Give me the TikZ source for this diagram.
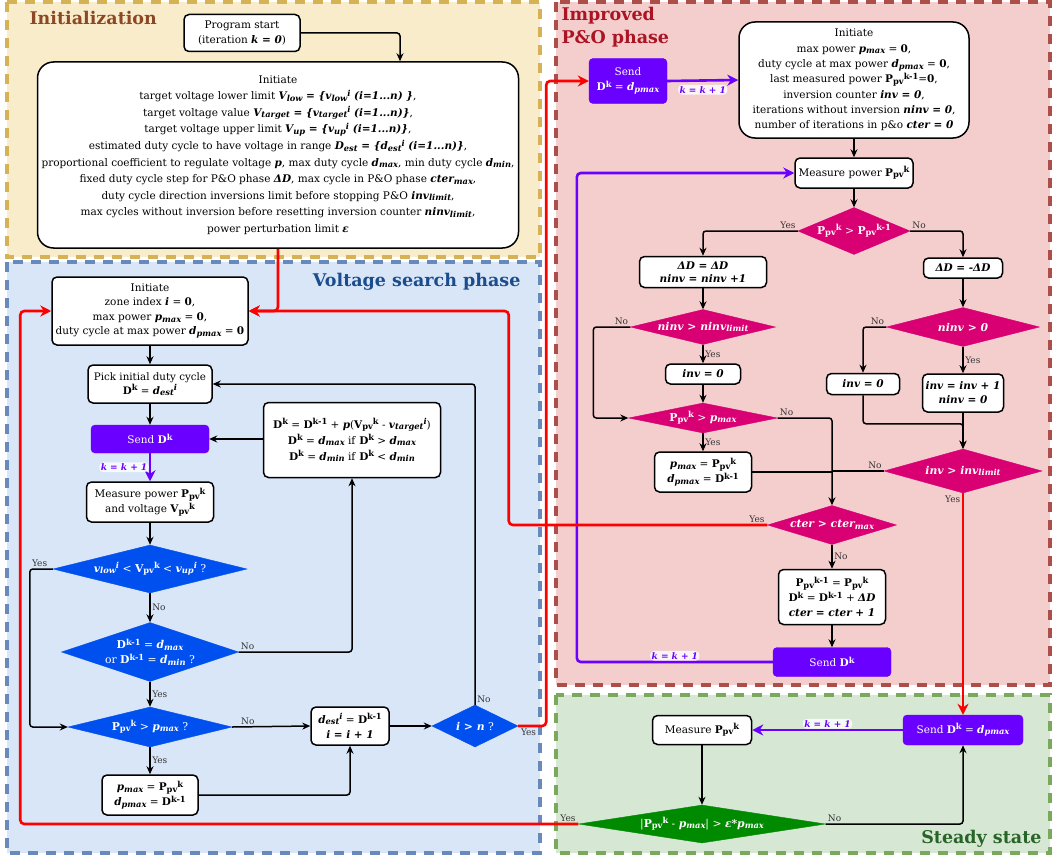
\documentclass[tikz,border=0pt]{standalone}
\usepackage{fontspec}
\setmainfont{DejaVu Serif}
\usetikzlibrary{shapes.geometric, arrows.meta, positioning, calc}

\definecolor{yelfill}{RGB}{249,236,202}
\definecolor{yeledge}{RGB}{214,178,86}
\definecolor{bluefill}{RGB}{216,230,248}
\definecolor{blueedge}{RGB}{104,137,186}
\definecolor{pinkfill}{RGB}{244,205,205}
\definecolor{pinkedge}{RGB}{172,78,74}
\definecolor{greenfill}{RGB}{214,232,212}
\definecolor{greenedge}{RGB}{122,168,92}
\definecolor{sendpurple}{RGB}{106,0,255}
\definecolor{diablue}{RGB}{0,80,239}
\definecolor{diamag}{RGB}{216,0,115}
\definecolor{diagreen}{RGB}{0,138,0}
\definecolor{ttlbrown}{RGB}{140,72,36}
\definecolor{ttlblue}{RGB}{27,76,140}
\definecolor{ttlred}{RGB}{170,20,35}
\definecolor{ttlgreen}{RGB}{40,100,40}

\newcommand{\bv}[1]{\textbf{\textit{#1}}}
\newcommand{\sps}[1]{\raisebox{0.62ex}{\fontsize{8.3}{9}\selectfont #1}}
\newcommand{\sbs}[1]{\raisebox{-0.3ex}{\fontsize{8.3}{9}\selectfont #1}}
\newcommand{\Dk}[1]{\textbf{D\sps{#1}}}
\newcommand{\Ppv}[1]{\textbf{P\sbs{pv}\sps{#1}}}
\newcommand{\Vpv}[1]{\textbf{V\sbs{pv}\sps{#1}}}

\begin{document}
\begin{tikzpicture}[
    x=1pt, y=-1pt, >=Stealth,
    every node/.style={font=\fontsize{10.5}{15}\selectfont},
    box/.style={draw, line width=1.5pt, rounded corners=5pt, fill=white, align=center, inner sep=2pt},
    bigbox/.style={box, rounded corners=16pt},
    sendbox/.style={draw=sendpurple, fill=sendpurple, text=white, rounded corners=4pt, align=center, inner sep=2pt},
    dia/.style={diamond, inner sep=0pt, align=center, text=white, font=\fontsize{10.8}{15}\selectfont},
    bdia/.style={dia, fill=diablue, draw=diablue},
    mdia/.style={dia, fill=diamag, draw=diamag},
    gdia/.style={dia, fill=diagreen, draw=diagreen},
    region/.style={line width=3.5pt, dash pattern=on 10pt off 8pt},
    title/.style={font=\fontsize{17.5}{23}\selectfont\bfseries},
    line/.style={draw, line width=1.5pt, -{Stealth[length=8pt,width=7pt]}, rounded corners=3pt},
    mergeline/.style={draw, line width=1.5pt, rounded corners=3pt},
    redline/.style={draw=red, line width=2.6pt, -{Stealth[length=11pt,width=11pt]}, rounded corners=4pt},
    purpline/.style={draw=sendpurple, line width=2.6pt, -{Stealth[length=11pt,width=11pt]}, rounded corners=4pt},
    lbl/.style={font=\fontsize{9}{10}\selectfont, text=black!80, inner sep=1.5pt},
    klbl/.style={font=\fontsize{9}{10}\selectfont\bfseries\itshape, text=sendpurple, fill=white, fill opacity=0.8, text opacity=1, inner sep=1.5pt}
]
\useasboundingbox (0,0) rectangle (1055,859);

% phase areas
\fill[yelfill] (7,2) rectangle (540,257);
\draw[yeledge, region] (7,2) rectangle (540,257);
\fill[bluefill] (7,262) rectangle (540,853);
\draw[blueedge, region] (7,262) rectangle (540,853);
\fill[pinkfill] (556,2) rectangle (1050,685);
\draw[pinkedge, region] (556,2) rectangle (1050,685);
\fill[greenfill] (556,695) rectangle (1050,853);
\draw[greenedge, region] (556,695) rectangle (1050,853);

\node[title, text=ttlbrown, anchor=west] (ttlinit) at (26,18) {Initialization};
\node[title, text=ttlblue, anchor=east] (ttlvolt) at (524,282) {Voltage search phase};
\node[title, text=ttlred, anchor=north west, align=left] (ttlpo) at (558,4) {Improved\\P\&O phase};
\node[title, text=ttlgreen, anchor=east] (ttlsteady) at (1045,839) {Steady state};

% initialization
\node[box, minimum width=116, minimum height=37] (start) at (242,33) {Program start\\(iteration \bv{k = 0})};
\node[bigbox, minimum width=481, minimum height=186, font=\fontsize{10.5}{16.6}\selectfont] (init) at (278,155) {Initiate\\
    target voltage lower limit \bv{V\sbs{low} = \{v\sbs{low}\sps{i} (i=1...n) \}},\\
    target voltage value \bv{V\sbs{target} = \{v\sbs{target}\sps{i} (i=1...n)\}},\\
    target voltage upper limit \bv{V\sbs{up} = \{v\sbs{up}\sps{i} (i=1...n)\}},\\
    estimated duty cycle to have voltage in range \bv{D\sbs{est} = \{d\sbs{est}\sps{i} (i=1...n)\}},\\
    proportional coefficient to regulate voltage \bv{p}, max duty cycle \bv{d\sbs{max}}, min duty cycle \bv{d\sbs{min}},\\
    fixed duty cycle step for P\&O phase \bv{ΔD}, max cycle in P\&O phase \bv{cter\sbs{max}},\\
    duty cycle direction inversions limit before stopping P\&O \bv{inv\sbs{limit}},\\
    max cycles without inversion before resetting inversion counter \bv{ninv\sbs{limit}},\\
    power perturbation limit \bv{ε}};
\draw[line] (start.east) -| ([xshift=122pt]init.north);

% voltage search phase
\node[box, minimum width=196, minimum height=68, font=\fontsize{10.5}{14.5}\selectfont] (vinit) at (150,311) {Initiate\\zone index \bv{i} = \textbf{0},\\max power \bv{p\sbs{max}} = \textbf{0},\\duty cycle at max power \bv{d\sbs{pmax}} = \textbf{0}};
\node[box, minimum width=124, minimum height=38, font=\fontsize{10.3}{14}\selectfont] (pick) at (150,384) {Pick initial duty cycle\\\Dk{k} = \bv{d\sbs{est}\sps{i}}};
\node[sendbox, minimum width=118, minimum height=28] (send1) at (150,439) {Send \Dk{k}};
\node[box, minimum width=127, minimum height=40] (meas1) at (150,502) {Measure power \Ppv{k}\\and voltage \Vpv{k}};
\node[bdia, minimum width=194, minimum height=48, aspect=4] (d1) at (150,569) {\bv{v\sbs{low}\sps{i}} < \Vpv{k} < \bv{v\sbs{up}\sps{i}} ?};
\node[bdia, minimum width=177, minimum height=59, aspect=3] (d2) at (150,652) {\Dk{k-1} = \bv{d\sbs{max}}\\or \Dk{k-1} = \bv{d\sbs{min}} ?};
\node[bdia, minimum width=164, minimum height=40, aspect=4] (d3) at (150,727) {\Ppv{k} > \bv{p\sbs{max}} ?};
\node[box, minimum width=96, minimum height=40] (pm1) at (150,795) {\bv{p\sbs{max}} = \Ppv{k}\\\bv{d\sbs{pmax}} = \Dk{k-1}};
\node[box, minimum width=78, minimum height=38] (dest) at (350,726) {\bv{d\sbs{est}\sps{i}} = \Dk{k-1}\\\bv{i = i + 1}};
\node[bdia, minimum width=86, minimum height=42, aspect=2] (d4) at (475,726) {\bv{i > n} ?};
\node[box, minimum width=177, minimum height=75, font=\fontsize{10.5}{16}\selectfont] (update) at (352,440) {\Dk{k} = \Dk{k-1} + \bv{p}(\Vpv{k} - \bv{v\sbs{target}\sps{i}})\\\Dk{k} = \bv{d\sbs{max}} if \Dk{k} > \bv{d\sbs{max}}\\\Dk{k} = \bv{d\sbs{min}} if \Dk{k} < \bv{d\sbs{min}}};

\draw[line] (vinit) -- (pick);
\draw[line] (pick) -- (send1);
\draw[purpline] (send1) -- node[klbl, left] (kv) {k = k + 1} (meas1);
\draw[line] (meas1) -- (d1);
\draw[line] (d1) -- node[lbl, right] (n1) {No} (d2);
\draw[line] (d2) -- node[lbl, right] (y2) {Yes} (d3);
\draw[line] (d3) -- node[lbl, right] (y3) {Yes} (pm1);
\draw[line] (d1.west) -- ++(-23,0) node[lbl, above right] (y1) {Yes} |- (d3.west);
\draw[line] (d3.east) -- node[lbl, above, pos=0.2] (n3) {No} (dest.west);
\draw[line] (pm1.east) -| (dest.south);
\draw[line] (dest.east) -- (d4.west);
\draw[line] (d4.north) node[lbl, above right] (n4) {No} |- (pick.east);
\draw[line] (d2.east) node[lbl, above right] (n2) {No} -| (update.south);
\draw[line] (update.west |- send1.east) -- (send1.east);
\draw[redline] (init.south) |- (vinit.east);

% improved P&O phase
\node[sendbox, minimum width=78, minimum height=45] (send2) at (628,81) {Send\\\Dk{k} = \bv{d\sbs{pmax}}};
\node[bigbox, minimum width=230, minimum height=116, font=\fontsize{10.5}{15.3}\selectfont] (pinit) at (854,80) {Initiate\\max power \bv{p\sbs{max}} = \textbf{0},\\duty cycle at max power \bv{d\sbs{pmax}} = \textbf{0},\\last measured power \Ppv{k-1}=\textbf{0},\\inversion counter \bv{inv = 0},\\iterations without inversion \bv{ninv = 0},\\number of iterations in p\&o \bv{cter = 0}};
\node[box, minimum width=118, minimum height=30] (meas2) at (854,173) {Measure power \Ppv{k}};
\node[mdia, minimum width=112, minimum height=47, aspect=2.5] (pd1) at (854,231) {\Ppv{k} > \Ppv{k-1}};
\node[box, minimum width=127, minimum height=31, font=\fontsize{10.5}{13.5}\selectfont] (da) at (703,272) {\bv{ΔD = ΔD}\\\bv{ninv = ninv +1}};
\node[box, minimum width=79, minimum height=20, font=\fontsize{10.5}{11}\selectfont] (db) at (963,268) {\bv{ΔD = -ΔD}};
\node[mdia, minimum width=145, minimum height=35, aspect=4] (pd2) at (703,327) {\bv{ninv > ninv\sbs{limit}}};
\node[mdia, minimum width=153, minimum height=39, aspect=4] (pd3) at (963,327) {\bv{ninv > 0}};
\node[box, minimum width=75, minimum height=20, font=\fontsize{10.5}{11}\selectfont] (inv0a) at (703,374) {\bv{inv = 0}};
\node[box, minimum width=73, minimum height=21, font=\fontsize{10.5}{11}\selectfont] (inv0b) at (863,384) {\bv{inv = 0}};
\node[box, minimum width=81, minimum height=38, font=\fontsize{10.5}{14}\selectfont] (incb) at (963,393) {\bv{inv = inv + 1}\\\bv{ninv = 0}};
\node[mdia, minimum width=149, minimum height=30, aspect=5] (pd4) at (703,418) {\Ppv{k} > \bv{p\sbs{max}}};
\node[box, minimum width=97, minimum height=40] (pm2) at (703,472) {\bv{p\sbs{max}} = \Ppv{k}\\\bv{d\sbs{pmax}} = \Dk{k-1}};
\node[mdia, minimum width=158, minimum height=44, aspect=3.6] (pd5) at (963,471) {\bv{inv > inv\sbs{limit}}};
\node[mdia, minimum width=129, minimum height=39, aspect=3.3] (pd6) at (832,525) {\bv{cter > cter\sbs{max}}};
\node[box, minimum width=107, minimum height=55, font=\fontsize{10.5}{15}\selectfont] (upd) at (832,597) {\Ppv{k-1} = \Ppv{k}\\\Dk{k} = \Dk{k-1} + \bv{ΔD}\\\bv{cter = cter + 1}};
\node[sendbox, minimum width=118, minimum height=29] (send3) at (832,662) {Send \Dk{k}};

\draw[redline] (d4.east) node[lbl, below right] (y4) {Yes} -- ++(28,0) |- (send2.west);
\draw[purpline] (send2.east) -- node[klbl, below=3pt] (kp1) {k = k + 1} (pinit.west);
\draw[line] (pinit) -- (meas2);
\draw[line] (meas2) -- (pd1);
\draw[line] (pd1.west) node[lbl, above left] (yp1) {Yes} -| (da.north);
\draw[line] (pd1.east) node[lbl, above right] (np1) {No} -| (db.north);
\draw[line] (da) -- (pd2);
\draw[line] (pd2) -- node[lbl, right] (yp2) {Yes} (inv0a);
\draw[line] (pd2.west) node[lbl, above left] (np2) {No} -- ++(-37,0) |- (pd4.west);
\draw[line] (inv0a) -- (pd4);
\draw[line] (pd4) -- node[lbl, right] (yp4) {Yes} (pm2);
\draw[line] (pd4.east) node[lbl, above right] (np4) {No} -| (pd6.north);
\draw[mergeline] (pm2.east) -- (pm2.east -| pd6.north);
\draw[mergeline] (pd5.west) node[lbl, above left] (np5) {No} -- (pd5.west -| pd6.north);
\draw[line] (db) -- (pd3);
\draw[line] (pd3) -- node[lbl, right] (yp3) {Yes} (incb);
\draw[line] (pd3.west) node[lbl, above left] (np3) {No} -| (inv0b.north);
\draw[line] (incb) -- (pd5);
\draw[line] (inv0b.south) |- ([yshift=-11pt]incb.south) -- (pd5.north);
\draw[line] (pd6) -- node[lbl, right] (np6) {No} (upd);
\draw[line] (upd) -- (send3);
\draw[purpline] (send3.west) -- node[klbl, above] (kp2) {k = k + 1} ++(-196,0) |- (meas2.west);
\draw[redline] (pd6.west) node[lbl, above left] (yp6) {Yes} -| ([xshift=260pt]vinit.east) -- (vinit.east);

% steady state
\node[box, minimum width=99, minimum height=29] (meas3) at (702,730) {Measure \Ppv{k}};
\node[sendbox, minimum width=120, minimum height=30] (send4) at (963,730) {Send \Dk{k} = \bv{d\sbs{pmax}}};
\node[gdia, minimum width=247, minimum height=38, aspect=6.5] (sd) at (702,824) {|\Ppv{k} - \bv{p\sbs{max}}| > \bv{ε*p\sbs{max}}};

\draw[redline] (pd5.south) node[lbl, below left] (yp5) {Yes} -- (send4.north);
\draw[purpline] (send4) -- node[klbl, above] (ks) {k = k + 1} (meas3);
\draw[line] (meas3) -- (sd);
\draw[line] (sd.east) node[lbl, above right] (ns) {No} -| (send4.south);
\draw[redline] (sd.west) node[lbl, above left] (ys) {Yes} -| ([xshift=-31pt]vinit.west) -- (vinit.west);
\end{tikzpicture}
\end{document}
